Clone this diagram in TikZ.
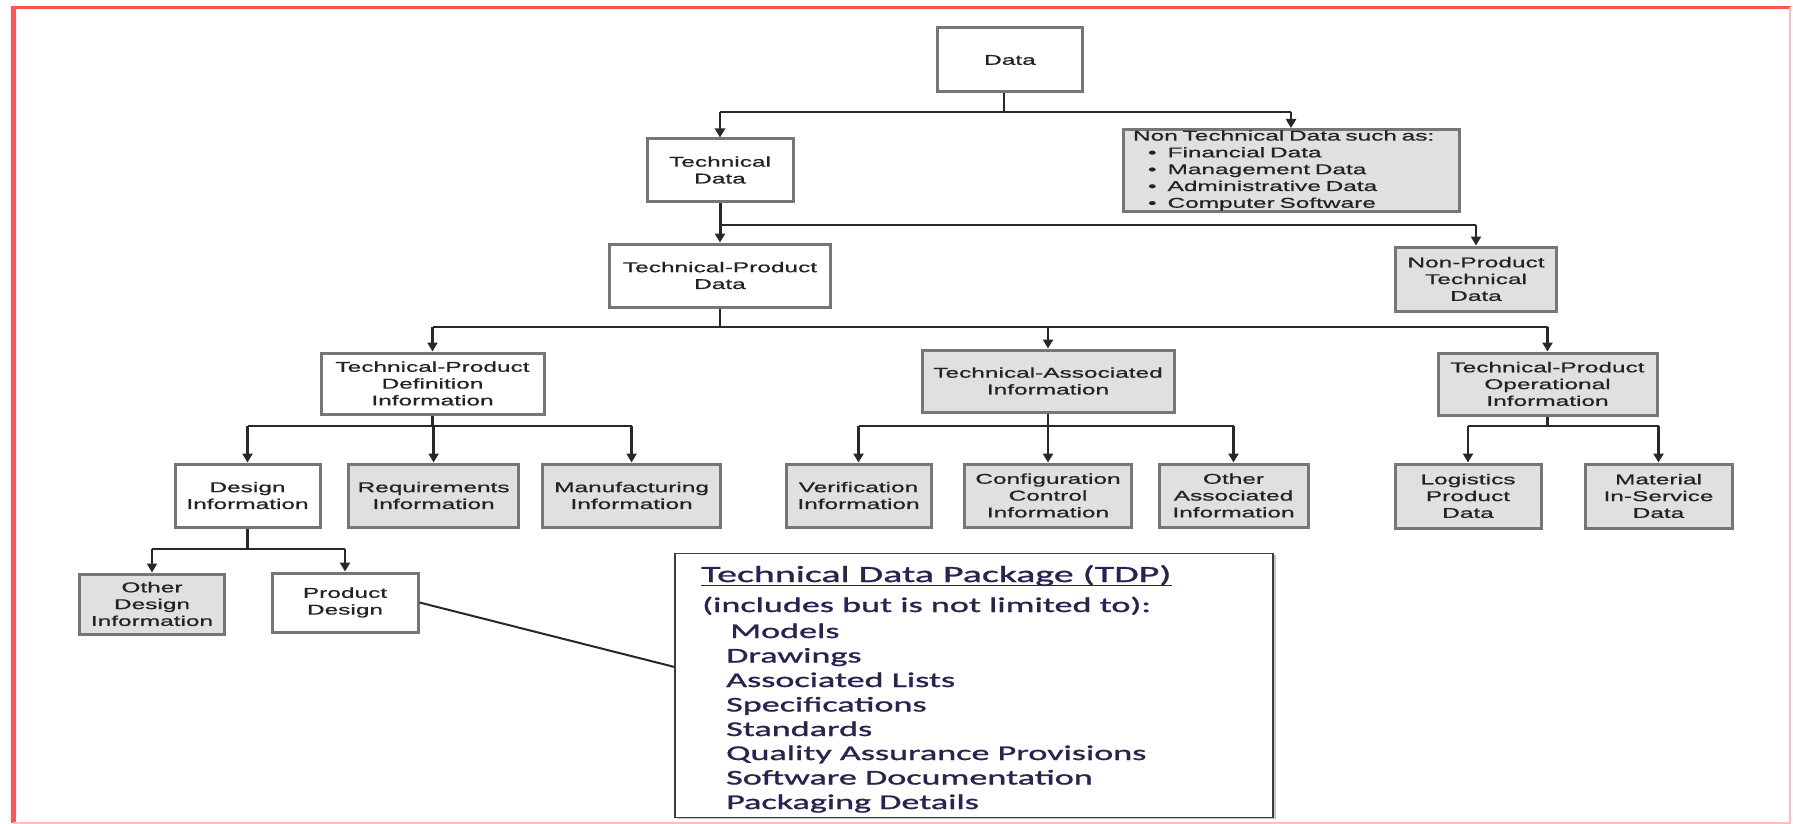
\documentclass[tikz,border=0pt]{standalone}
\usepackage{fontspec}
\usetikzlibrary{arrows.meta,calc,shadows}
\newfontfamily\boxfont[FakeStretch=1.72,FakeBold=0.8]{Liberation Sans}
\newfontfamily\tdpfont[FakeStretch=1.72,FakeBold=1.2]{Carlito}
\definecolor{boxgray}{RGB}{224,224,226}
\definecolor{bordergray}{RGB}{118,118,118}
\definecolor{linecol}{RGB}{40,40,40}
\definecolor{txtcol}{RGB}{35,35,35}
\definecolor{tdpcol}{RGB}{40,35,80}
\definecolor{framered}{RGB}{255,85,85}
\definecolor{framepink}{RGB}{255,190,190}
\begin{document}
\begin{tikzpicture}[x=1pt,y=-1pt,
  nodebox/.style={draw=bordergray, line width=3pt, inner sep=0pt, align=center, text=txtcol,
    font=\boxfont\fontsize{14.2}{16.8}\selectfont},
  wbox/.style={nodebox, fill=white},
  gbox/.style={nodebox, fill=boxgray},
  bus/.style={draw=linecol, line width=2pt},
  arr/.style={draw=linecol, line width=2.6pt, -{Triangle[width=10pt,length=9pt]}},
  tdpbox/.style={draw={rgb,255:red,60;green,60;blue,60}, line width=1.5pt, fill=white,
    drop shadow={shadow xshift=2.5pt, shadow yshift=-1.5pt, opacity=0.45}},
  tdptitle/.style={inner sep=0pt, text=tdpcol, font=\tdpfont\fontsize{23.2}{26}\selectfont},
  tdptext/.style={inner sep=0pt, text=tdpcol, font=\tdpfont\fontsize{21}{24}\selectfont},
]
\useasboundingbox (0,0) rectangle (1793,824);

% frame
\draw[framered, line width=5pt] (13.5,6) -- (13.5,823);
\draw[framered, line width=3.5pt] (11,7.5) -- (1791,7.5);
\draw[framepink, line width=2pt] (1790,7) -- (1790,823);
\draw[framepink, line width=2pt] (13,822.5) -- (1791,822.5);

% boxes
\node[wbox, minimum width=145pt, minimum height=64pt] (data) at (1010,60) {Data};
\node[wbox, minimum width=146pt, minimum height=62pt] (td) at (720,170) {Technical\\Data};
\node[gbox, minimum height=82pt, text width=316pt, inner xsep=10pt, align=left] (nontech) at (1291,170.5)
  {Non Technical Data such as:\\
   \hspace*{15pt}•\hspace*{11pt}Financial Data\\
   \hspace*{15pt}•\hspace*{11pt}Management Data\\
   \hspace*{15pt}•\hspace*{11pt}Administrative Data\\
   \hspace*{15pt}•\hspace*{11pt}Computer Software};
\node[wbox, minimum width=221pt, minimum height=63pt] (tpd) at (720,275.5) {Technical-Product\\Data};
\node[gbox, minimum width=161pt, minimum height=64pt] (nonprod) at (1476,279) {Non-Product\\Technical\\Data};
\node[wbox, minimum width=223pt, minimum height=61pt] (tpdi) at (432.5,383.5) {Technical-Product\\Definition\\Information};
\node[gbox, minimum width=252pt, minimum height=62pt] (tai) at (1048,381) {Technical-Associated\\Information};
\node[gbox, minimum width=219pt, minimum height=62pt] (tpoi) at (1547.5,384) {Technical-Product\\Operational\\Information};

\node[wbox, minimum width=145pt, minimum height=63pt] (design) at (247.5,495.5) {Design\\Information};
\node[gbox, minimum width=170pt, minimum height=63pt] (req) at (433.6,495.5) {Requirements\\Information};
\node[gbox, minimum width=178pt, minimum height=63pt] (manu) at (631.6,495.5) {Manufacturing\\Information};
\node[gbox, minimum width=145pt, minimum height=63pt] (verif) at (858.5,495.5) {Verification\\Information};
\node[gbox, minimum width=167pt, minimum height=63pt] (config) at (1048,495.5) {Configuration\\Control\\Information};
\node[gbox, minimum width=149pt, minimum height=63pt] (oassoc) at (1233.5,495.5) {Other\\Associated\\Information};
\node[gbox, minimum width=146pt, minimum height=64pt] (logis) at (1468,496) {Logistics\\Product\\Data};
\node[gbox, minimum width=147pt, minimum height=64pt] (material) at (1658.5,496) {Material\\In-Service\\Data};

\node[gbox, minimum width=145pt, minimum height=60pt] (odesign) at (152,604) {Other\\Design\\Information};
\node[wbox, minimum width=146pt, minimum height=59pt] (pdesign) at (345,602.5) {Product\\Design};

% TDP box
\node[tdpbox, minimum width=598pt, minimum height=264pt] (tdp) at (974,685.5) {};
\node[tdptitle, anchor=base west] (tdptitle) at (701,582) {Technical Data Package (TDP)};
\draw[tdpcol, line width=1.3pt] ([yshift=-3.5pt]tdptitle.base west) -- ([yshift=-3.5pt]tdptitle.base east);
\node[tdptext, anchor=base west] (tdpsub) at (702,612) {(includes but is not limited to):};
\node[tdptext, anchor=base west] (tdp1) at (730,638) {Models};
\node[tdptext, anchor=base west] (tdp2) at (726,662.5) {Drawings};
\node[tdptext, anchor=base west] (tdp3) at (726,687) {Associated Lists};
\node[tdptext, anchor=base west] (tdp4) at (726,711.5) {Specifications};
\node[tdptext, anchor=base west] (tdp5) at (726,736) {Standards};
\node[tdptext, anchor=base west] (tdp6) at (726,760) {Quality Assurance Provisions};
\node[tdptext, anchor=base west] (tdp7) at (726,784.5) {Software Documentation};
\node[tdptext, anchor=base west] (tdp8) at (726,809) {Packaging Details};

% connectors
\coordinate (b1) at ([xshift=-6pt]data.south |- 0,112);
\draw[bus, line width=2.6pt] ([xshift=-6pt]data.south) -- (b1);
\draw[bus] (b1 -| td.north) -- (b1 -| nontech.north);
\draw[arr] (b1 -| td.north) -- (td.north);
\draw[arr] (b1 -| nontech.north) -- (nontech.north);

\draw[arr, line width=3pt] (td.south) -- (tpd.north);
\coordinate (b2) at (td.south |- 0,225);
\draw[bus] (b2) -- (b2 -| nonprod.north);
\draw[arr] (b2 -| nonprod.north) -- (nonprod.north);

\coordinate (b3) at (tpd.south |- 0,327);
\draw[bus, line width=2.6pt] (tpd.south) -- (b3);
\draw[bus] (b3 -| tpdi.north) -- (b3 -| tpoi.north);
\draw[arr] (b3 -| tpdi.north) -- (tpdi.north);
\draw[arr] (b3 -| tai.north) -- (tai.north);
\draw[arr] (b3 -| tpoi.north) -- (tpoi.north);

\coordinate (b4) at (tpdi.south |- 0,426);
\draw[bus, line width=2.6pt] (tpdi.south) -- (b4);
\draw[bus] (b4 -| design.north) -- (b4 -| manu.north);
\draw[arr] (b4 -| design.north) -- (design.north);
\draw[arr] (b4 -| req.north) -- (req.north);
\draw[arr] (b4 -| manu.north) -- (manu.north);

\coordinate (b5) at (tai.south |- 0,426);
\draw[bus, line width=2.6pt] (tai.south) -- (b5);
\draw[bus] (b5 -| verif.north) -- (b5 -| oassoc.north);
\draw[arr] (b5 -| verif.north) -- (verif.north);
\draw[arr] (b5 -| config.north) -- (config.north);
\draw[arr] (b5 -| oassoc.north) -- (oassoc.north);

\coordinate (b6) at (tpoi.south |- 0,426);
\draw[bus, line width=2.6pt] (tpoi.south) -- (b6);
\draw[bus] (b6 -| logis.north) -- (b6 -| material.north);
\draw[arr] (b6 -| logis.north) -- (logis.north);
\draw[arr] (b6 -| material.north) -- (material.north);

\coordinate (b7) at (design.south |- 0,549);
\draw[bus, line width=2.6pt] (design.south) -- (b7);
\draw[bus] (b7 -| odesign.north) -- (b7 -| pdesign.north);
\draw[arr] (b7 -| odesign.north) -- (odesign.north);
\draw[arr] (b7 -| pdesign.north) -- (pdesign.north);

\draw[bus] (pdesign.east) -- ($(tdp.north west)!0.43!(tdp.south west)$);
\end{tikzpicture}
\end{document}
